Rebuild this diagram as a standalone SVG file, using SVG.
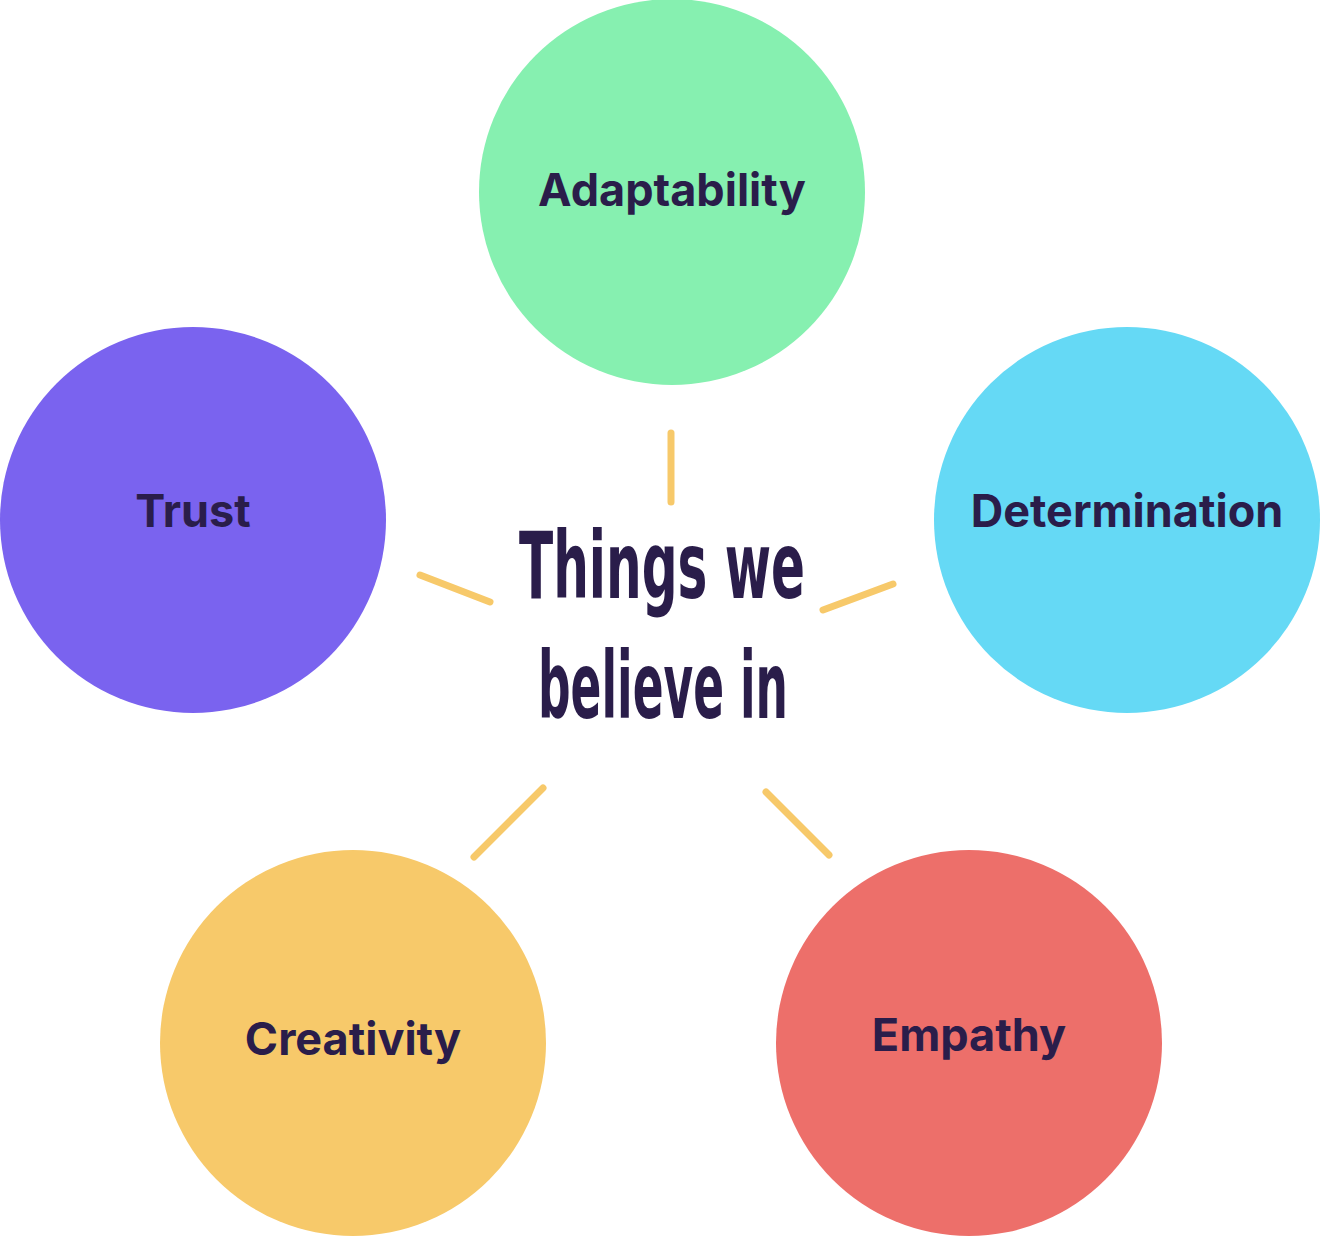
<svg xmlns="http://www.w3.org/2000/svg" width="1320" height="1236" viewBox="0 0 1320 1236">
<style>
.lbl{font-family:Inter,"Liberation Sans",sans-serif;font-weight:700;font-size:45px;fill:#2A1D4A;text-anchor:middle}
.hand{font-family:"DejaVu Sans Condensed","DejaVu Sans","Liberation Sans",sans-serif;font-size:92px;font-weight:700;fill:#2A1D4A}
.conn line{stroke:#F7C96A;stroke-width:7;stroke-linecap:round}
</style>
<rect width="1320" height="1236" fill="#ffffff"/>
<g id="adaptability"><circle cx="672" cy="192" r="193" fill="#86F0B0"/><text class="lbl" x="672" y="206">Adaptability</text></g>
<g id="trust"><circle cx="193" cy="520" r="193" fill="#7A63EF"/><text class="lbl" x="193" y="527">Trust</text></g>
<g id="determination"><circle cx="1127" cy="520" r="193" fill="#65D9F5"/><text class="lbl" x="1127" y="527">Determination</text></g>
<g id="creativity"><circle cx="353" cy="1043" r="193" fill="#F7C96A"/><text class="lbl" x="353" y="1055">Creativity</text></g>
<g id="empathy"><circle cx="969" cy="1043" r="193" fill="#ED6F6A"/><text class="lbl" x="969" y="1051">Empathy</text></g>
<g id="center"><text class="hand" x="519" y="598" textLength="286" lengthAdjust="spacingAndGlyphs">Things we</text><text class="hand" x="538" y="718" textLength="250" lengthAdjust="spacingAndGlyphs">believe in</text></g>
<g id="connectors" class="conn">
<line x1="671" y1="433" x2="671" y2="502"/>
<line x1="420" y1="575" x2="490" y2="602"/>
<line x1="823" y1="610" x2="893" y2="584"/>
<line x1="474" y1="857" x2="543" y2="788"/>
<line x1="766" y1="792" x2="829" y2="855"/>
</g>
</svg>
